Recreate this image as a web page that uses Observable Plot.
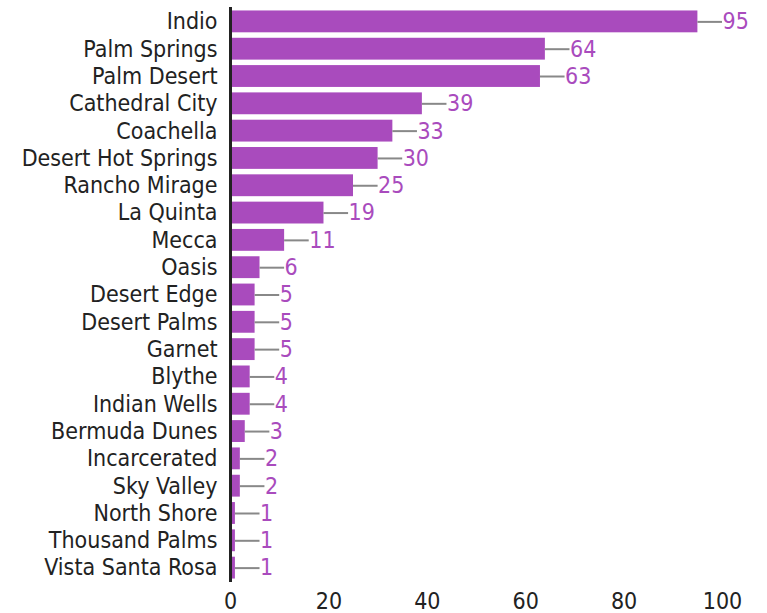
<!DOCTYPE html>
<html><head><meta charset="utf-8">
<script src="https://cdn.jsdelivr.net/npm/d3@7"></script>
<script src="https://cdn.jsdelivr.net/npm/@observablehq/plot@0.6"></script>
<style>body{margin:0;background:#fff}</style>
</head><body><div id="chart"></div>
<script>
const places = ["Indio","Palm Springs","Palm Desert","Cathedral City","Coachella","Desert Hot Springs","Rancho Mirage","La Quinta","Mecca","Oasis","Desert Edge","Desert Palms","Garnet","Blythe","Indian Wells","Bermuda Dunes","Incarcerated","Sky Valley","North Shore","Thousand Palms","Vista Santa Rosa"];
const counts = [95,64,63,39,33,30,25,19,11,6,5,5,5,4,4,3,2,2,1,1,1];
const xTicks = [0,20,40,60,80,100];
const data = places.map((p,i)=>({place:p, value:counts[i]}));
const purple = "#a94bbd";
const chart = Plot.plot({
  width: 767, height: 613,
  marginLeft: 230, marginRight: 45, marginTop: 5, marginBottom: 29,
  style: {fontFamily: "'DejaVu Sans Condensed', 'DejaVu Sans', sans-serif", fontStretch: "condensed", fontSize: "23px", color: "#222", background: "#fff"},
  x: {domain: [0,100], ticks: xTicks, tickSize: 0, tickPadding: 8, label: null},
  y: {domain: places, padding: 0.2, round: false, tickSize: 0, tickPadding: 13, label: null},
  marks: [
    Plot.barX(data, {x: "value", y: "place", fill: purple}),
    Plot.ruleY(data, {y: "place", x1: "value", x2: d => d.value + 5, stroke: "#888", strokeWidth: 2}),
    Plot.text(data, {y: "place", x: d => d.value + 5, text: d => String(d.value), textAnchor: "start", dx: 0, fill: purple, fontSize: 23}),
    Plot.ruleX([0], {stroke: "#222", strokeWidth: 3, insetTop: 2, insetBottom: 2})
  ]
});
document.getElementById("chart").appendChild(chart);
</script>
</body></html>
